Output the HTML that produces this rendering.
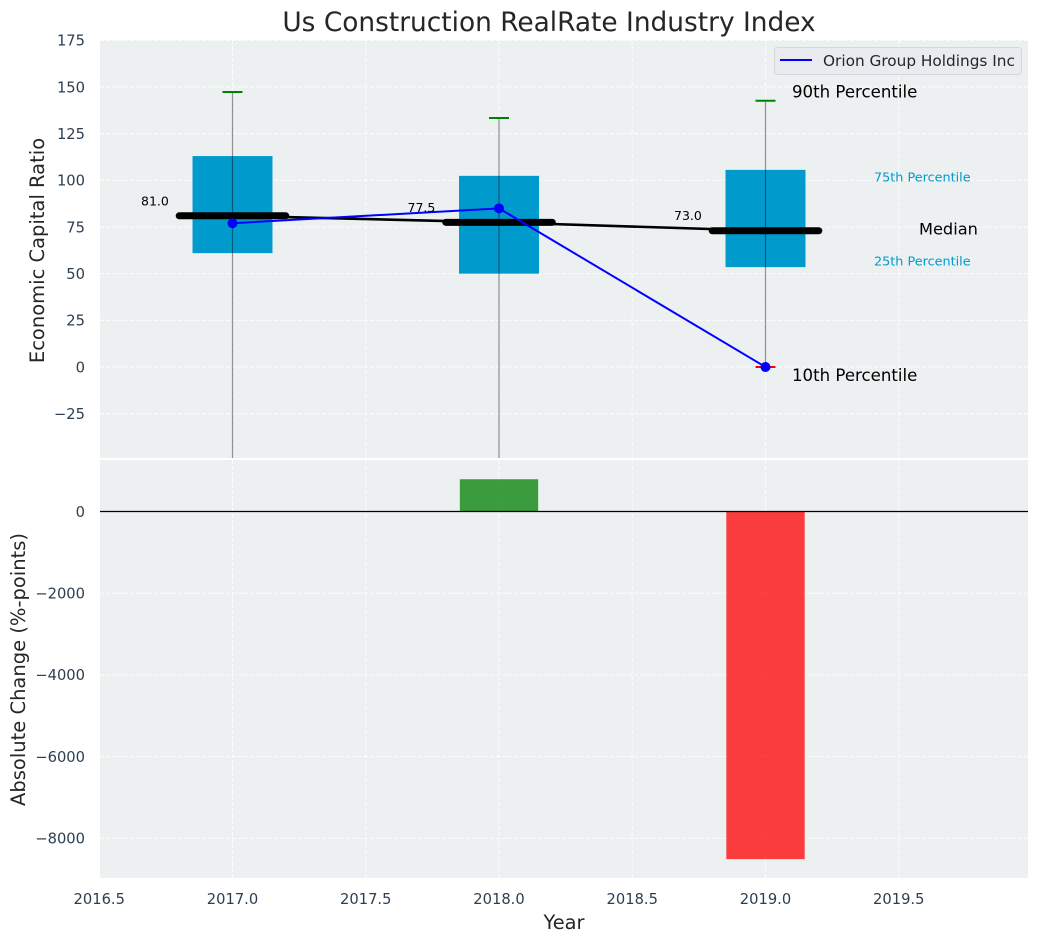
<!DOCTYPE html>
<html>
<head>
<meta charset="utf-8">
<title>Us Construction RealRate Industry Index</title>
<style>
html,body{margin:0;padding:0;background:#fff;width:1039px;height:942px;overflow:hidden}
svg{display:block}
text{font-family:"DejaVu Sans","Liberation Sans",sans-serif}
</style>
</head>
<body>
<svg id="chart" xmlns="http://www.w3.org/2000/svg" width="1039" height="942" viewBox="0 0 1039 942">
<defs>
<clipPath id="top-clip"><rect x="100" y="40" width="928" height="418"></rect></clipPath>
<clipPath id="bottom-clip"><rect x="100" y="460" width="928" height="418"></rect></clipPath>
</defs>
<rect x="0" y="0" width="1039" height="942" fill="#ffffff"></rect>
<rect x="100" y="40" width="928" height="418" fill="#ecf0f1"></rect>
<rect x="100" y="460" width="928" height="418" fill="#ecf0f1"></rect>
<g id="grid-layer"></g>
<g id="top-layer" clip-path="url(#top-clip)"></g>
<g id="bottom-layer" clip-path="url(#bottom-clip)"></g>
<g id="label-layer"></g>
<g id="tick-layer"></g>
<text x="549" y="31" font-size="26.4px" fill="#262626" text-anchor="middle">Us Construction RealRate Industry Index</text>
<text transform="translate(44,250.5) rotate(-90)" font-size="19.5px" fill="#262626" text-anchor="middle">Economic Capital Ratio</text>
<text transform="translate(25,669.5) rotate(-90)" font-size="19.5px" fill="#262626" text-anchor="middle">Absolute Change (%-points)</text>
<text x="564" y="929" font-size="19.4px" fill="#262626" text-anchor="middle">Year</text>
<g>
<rect x="774.5" y="47.5" width="247" height="27" rx="3" fill="#e9ebf0" stroke="#d6d7db" stroke-width="1"></rect>
<line x1="780" y1="60" x2="812" y2="60" stroke="#0000ff" stroke-width="2"></line>
<text x="823" y="66" font-size="15.3px" fill="#262626">Orion Group Holdings Inc</text>
</g>
</svg>
<script>
const years = [2017, 2018, 2019];
const p10 = [-60, -60, 0];
const p25 = [61, 50, 53.5];
const medians = [81.0, 77.5, 73.0];
const p75 = [113, 102.4, 105.6];
const p90 = [147.3, 133.4, 142.6];
const companyValues = [77, 85, 0];
const changeValues = [0, 790, -8510];
const xTicks = [2016.5, 2017.0, 2017.5, 2018.0, 2018.5, 2019.0, 2019.5];
const topYTicks = [-25, 0, 25, 50, 75, 100, 125, 150, 175];
const bottomYTicks = [0, -2000, -4000, -6000, -8000];

const svgNS = 'http://www.w3.org/2000/svg';
const xScale = v => 232.5 + (v - 2017) * 266.5;
const yTop = v => 367 - v * 1.8667;
const yBottom = v => 511.5 - v * 0.04085;
const fmtTick = v => (v < 0 ? '\u2212' : '') + Math.abs(v);

function mk(parentId, tag, attrs, content) {
  const el = document.createElementNS(svgNS, tag);
  for (const k in attrs) el.setAttribute(k, attrs[k]);
  if (content !== undefined) el.textContent = content;
  document.getElementById(parentId).appendChild(el);
  return el;
}

let el;
const gridStyle = {stroke: '#ffffff', 'stroke-width': 1, 'stroke-opacity': 0.85, 'stroke-dasharray': '4 2'};

xTicks.forEach(t => {
  el = mk('grid-layer', 'line', Object.assign({x1: xScale(t), x2: xScale(t), y1: 40, y2: 458}, gridStyle));
  
  
  el = mk('grid-layer', 'line', Object.assign({x1: xScale(t), x2: xScale(t), y1: 460, y2: 878}, gridStyle));
  
  
  el = mk('tick-layer', 'text', {x: xScale(t), y: 904, 'font-size': '14.7px', fill: '#2c3e50', 'text-anchor': 'middle'}, t.toFixed(1));
  
  
});

topYTicks.forEach(t => {
  el = mk('grid-layer', 'line', Object.assign({x1: 100, x2: 1028, y1: yTop(t), y2: yTop(t)}, gridStyle));
  
  
  el = mk('tick-layer', 'text', {x: 85, y: yTop(t) + 5.3, 'font-size': '14.7px', fill: '#2c3e50', 'text-anchor': 'end'}, fmtTick(t));
  
  
});

bottomYTicks.forEach(t => {
  el = mk('grid-layer', 'line', Object.assign({x1: 100, x2: 1028, y1: yBottom(t), y2: yBottom(t)}, gridStyle));
  
  
  el = mk('tick-layer', 'text', {x: 85, y: yBottom(t) + 5.3, 'font-size': '14.7px', fill: '#2c3e50', 'text-anchor': 'end'}, fmtTick(t));
  
  
});

const boxHalf = 0.15;
const capHalf = 0.0375;
const medianHalf = 0.2;

years.forEach((yr, i) => {
  const cx = xScale(yr);
  el = mk('top-layer', 'rect', {x: xScale(yr - boxHalf), width: xScale(yr + boxHalf) - xScale(yr - boxHalf), y: yTop(p75[i]), height: yTop(p25[i]) - yTop(p75[i]), fill: '#009acd'});
  
  
  el = mk('top-layer', 'line', {x1: cx, x2: cx, y1: yTop(p90[i]), y2: yTop(p10[i]), stroke: '#000000', 'stroke-opacity': 0.42, 'stroke-width': 1.2});
  
  
  el = mk('top-layer', 'line', {x1: xScale(yr - capHalf), x2: xScale(yr + capHalf), y1: yTop(p90[i]), y2: yTop(p90[i]), stroke: '#008000', 'stroke-width': 2});
  
  
  el = mk('top-layer', 'line', {x1: xScale(yr - capHalf), x2: xScale(yr + capHalf), y1: yTop(p10[i]), y2: yTop(p10[i]), stroke: '#ff0000', 'stroke-width': 2});
  
  
});

el = mk('top-layer', 'polyline', {points: years.map((yr, i) => xScale(yr) + ',' + yTop(medians[i])).join(' '), fill: 'none', stroke: '#000000', 'stroke-width': 2.6});



years.forEach((yr, i) => {
  el = mk('top-layer', 'line', {x1: xScale(yr - medianHalf), x2: xScale(yr + medianHalf), y1: yTop(medians[i]), y2: yTop(medians[i]), stroke: '#000000', 'stroke-width': 7, 'stroke-linecap': 'round'});
  
  
  el = mk('label-layer', 'text', {x: xScale(yr) - 91.5, y: yTop(medians[i]) - 10.5, 'font-size': '12.5px', fill: '#000000'}, medians[i].toFixed(1));
  
  
});

el = mk('top-layer', 'polyline', {points: years.map((yr, i) => xScale(yr) + ',' + yTop(companyValues[i])).join(' '), fill: 'none', stroke: '#0000ff', 'stroke-width': 2});



years.forEach((yr, i) => {
  el = mk('top-layer', 'circle', {cx: xScale(yr), cy: yTop(companyValues[i]), r: 5, fill: '#0000ff'});
  
  
});

const barHalf = 0.147;
years.forEach((yr, i) => {
  if (changeValues[i] === 0) return;
  const y0 = yBottom(Math.max(changeValues[i], 0));
  const y1 = yBottom(Math.min(changeValues[i], 0));
  el = mk('bottom-layer', 'rect', {x: xScale(yr - barHalf), width: xScale(yr + barHalf) - xScale(yr - barHalf), y: y0, height: y1 - y0, fill: changeValues[i] > 0 ? '#008000' : '#ff0000', 'fill-opacity': 0.75});
  
  
});

el = mk('bottom-layer', 'line', {x1: 100, x2: 1028, y1: yBottom(0), y2: yBottom(0), stroke: '#000000', 'stroke-width': 1.3});



const last = years.length - 1;
const lastX = xScale(years[last]);
el = mk('label-layer', 'text', {x: lastX + 26.5, y: yTop(p90[last]) - 3.5, 'font-size': '16.6px', fill: '#000000'}, '90th Percentile');


el = mk('label-layer', 'text', {x: lastX + 26.5, y: yTop(p10[last]) + 14, 'font-size': '16.6px', fill: '#000000'}, '10th Percentile');


el = mk('label-layer', 'text', {x: lastX + 153.5, y: yTop(medians[last]) + 4, 'font-size': '16.2px', fill: '#000000'}, 'Median');


el = mk('label-layer', 'text', {x: lastX + 108.5, y: yTop(p75[last]) + 11.5, 'font-size': '12.8px', fill: '#009acd'}, '75th Percentile');


el = mk('label-layer', 'text', {x: lastX + 108.5, y: yTop(p25[last]) - 1.5, 'font-size': '12.8px', fill: '#009acd'}, '25th Percentile');


</script>
</body>
</html>
